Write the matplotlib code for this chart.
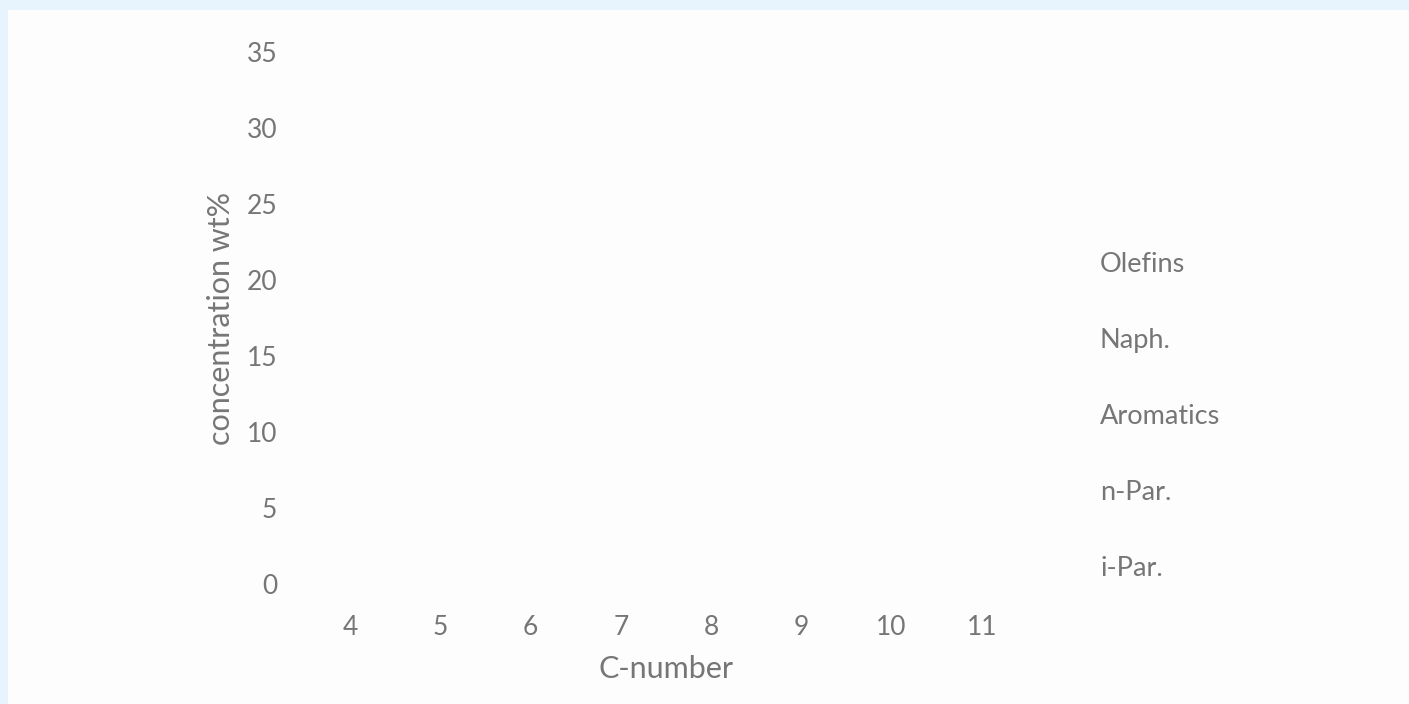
import matplotlib
matplotlib.use("Agg")
import matplotlib.pyplot as plt
from matplotlib.patches import Patch, Rectangle

# C-number categories and stacked series (bars are not visible in the source; all read as zero)
c_numbers = [4, 5, 6, 7, 8, 9, 10, 11]
olefins = [0, 0, 0, 0, 0, 0, 0, 0]
naph = [0, 0, 0, 0, 0, 0, 0, 0]
aromatics = [0, 0, 0, 0, 0, 0, 0, 0]
n_par = [0, 0, 0, 0, 0, 0, 0, 0]
i_par = [0, 0, 0, 0, 0, 0, 0, 0]
series_names = ["Olefins", "Naph.", "Aromatics", "n-Par.", "i-Par."]
y_ticks = [0, 5, 10, 15, 20, 25, 30, 35]

text_color = "#767676"
plt.rcParams["font.family"] = ["Lato", "DejaVu Sans"]

fig = plt.figure(figsize=(14.09, 7.04), dpi=100)
fig.patch.set_facecolor("#fdfdfd")
# pale blue frame along the top and left edges
fig.add_artist(Rectangle((0, 1 - 10 / 704), 1, 10 / 704, transform=fig.transFigure,
                         facecolor="#e8f4fd", edgecolor="none", zorder=0))
fig.add_artist(Rectangle((0, 0), 8 / 1409, 1, transform=fig.transFigure,
                         facecolor="#e8f4fd", edgecolor="none", zorder=0))

ax = fig.add_axes([305 / 1409, 1 - 584 / 704, 722 / 1409, 532 / 704])
ax.set_facecolor("none")

x = list(range(len(c_numbers)))
bottom = [0] * len(c_numbers)
for name, vals in zip(series_names, [olefins, naph, aromatics, n_par, i_par]):
    ax.bar(x, vals, bottom=bottom, width=0.55, color="white", label=name)
    bottom = [b + v for b, v in zip(bottom, vals)]

ax.set_xlim(-0.5, len(c_numbers) - 0.5)
ax.set_ylim(0, 35)
ax.set_xticks(x)
ax.set_xticklabels([str(c) for c in c_numbers])
ax.set_yticks(y_ticks)
ax.tick_params(length=0, labelsize=19, labelcolor=text_color)
ax.tick_params(axis="y", pad=20)
ax.tick_params(axis="x", pad=22)
for s in ax.spines.values():
    s.set_visible(False)

ax.set_ylabel("concentration wt%", fontsize=22, color=text_color)
ax.yaxis.set_label_coords(-0.097, 0.5)
ax.set_xlabel("C-number", fontsize=22, color=text_color)
ax.xaxis.set_label_coords(0.5, -0.133)

handles = [Patch(facecolor="white", edgecolor="none") for _ in series_names]
fig.legend(handles, series_names, loc="upper left",
           bbox_to_anchor=(1100 / 1409, 1 - 252 / 704), frameon=False,
           fontsize=19.5, labelcolor=text_color, handlelength=0,
           handletextpad=0, borderpad=0, borderaxespad=0, labelspacing=1.88)

fig.savefig("out.png", dpi=100, facecolor=fig.get_facecolor())
